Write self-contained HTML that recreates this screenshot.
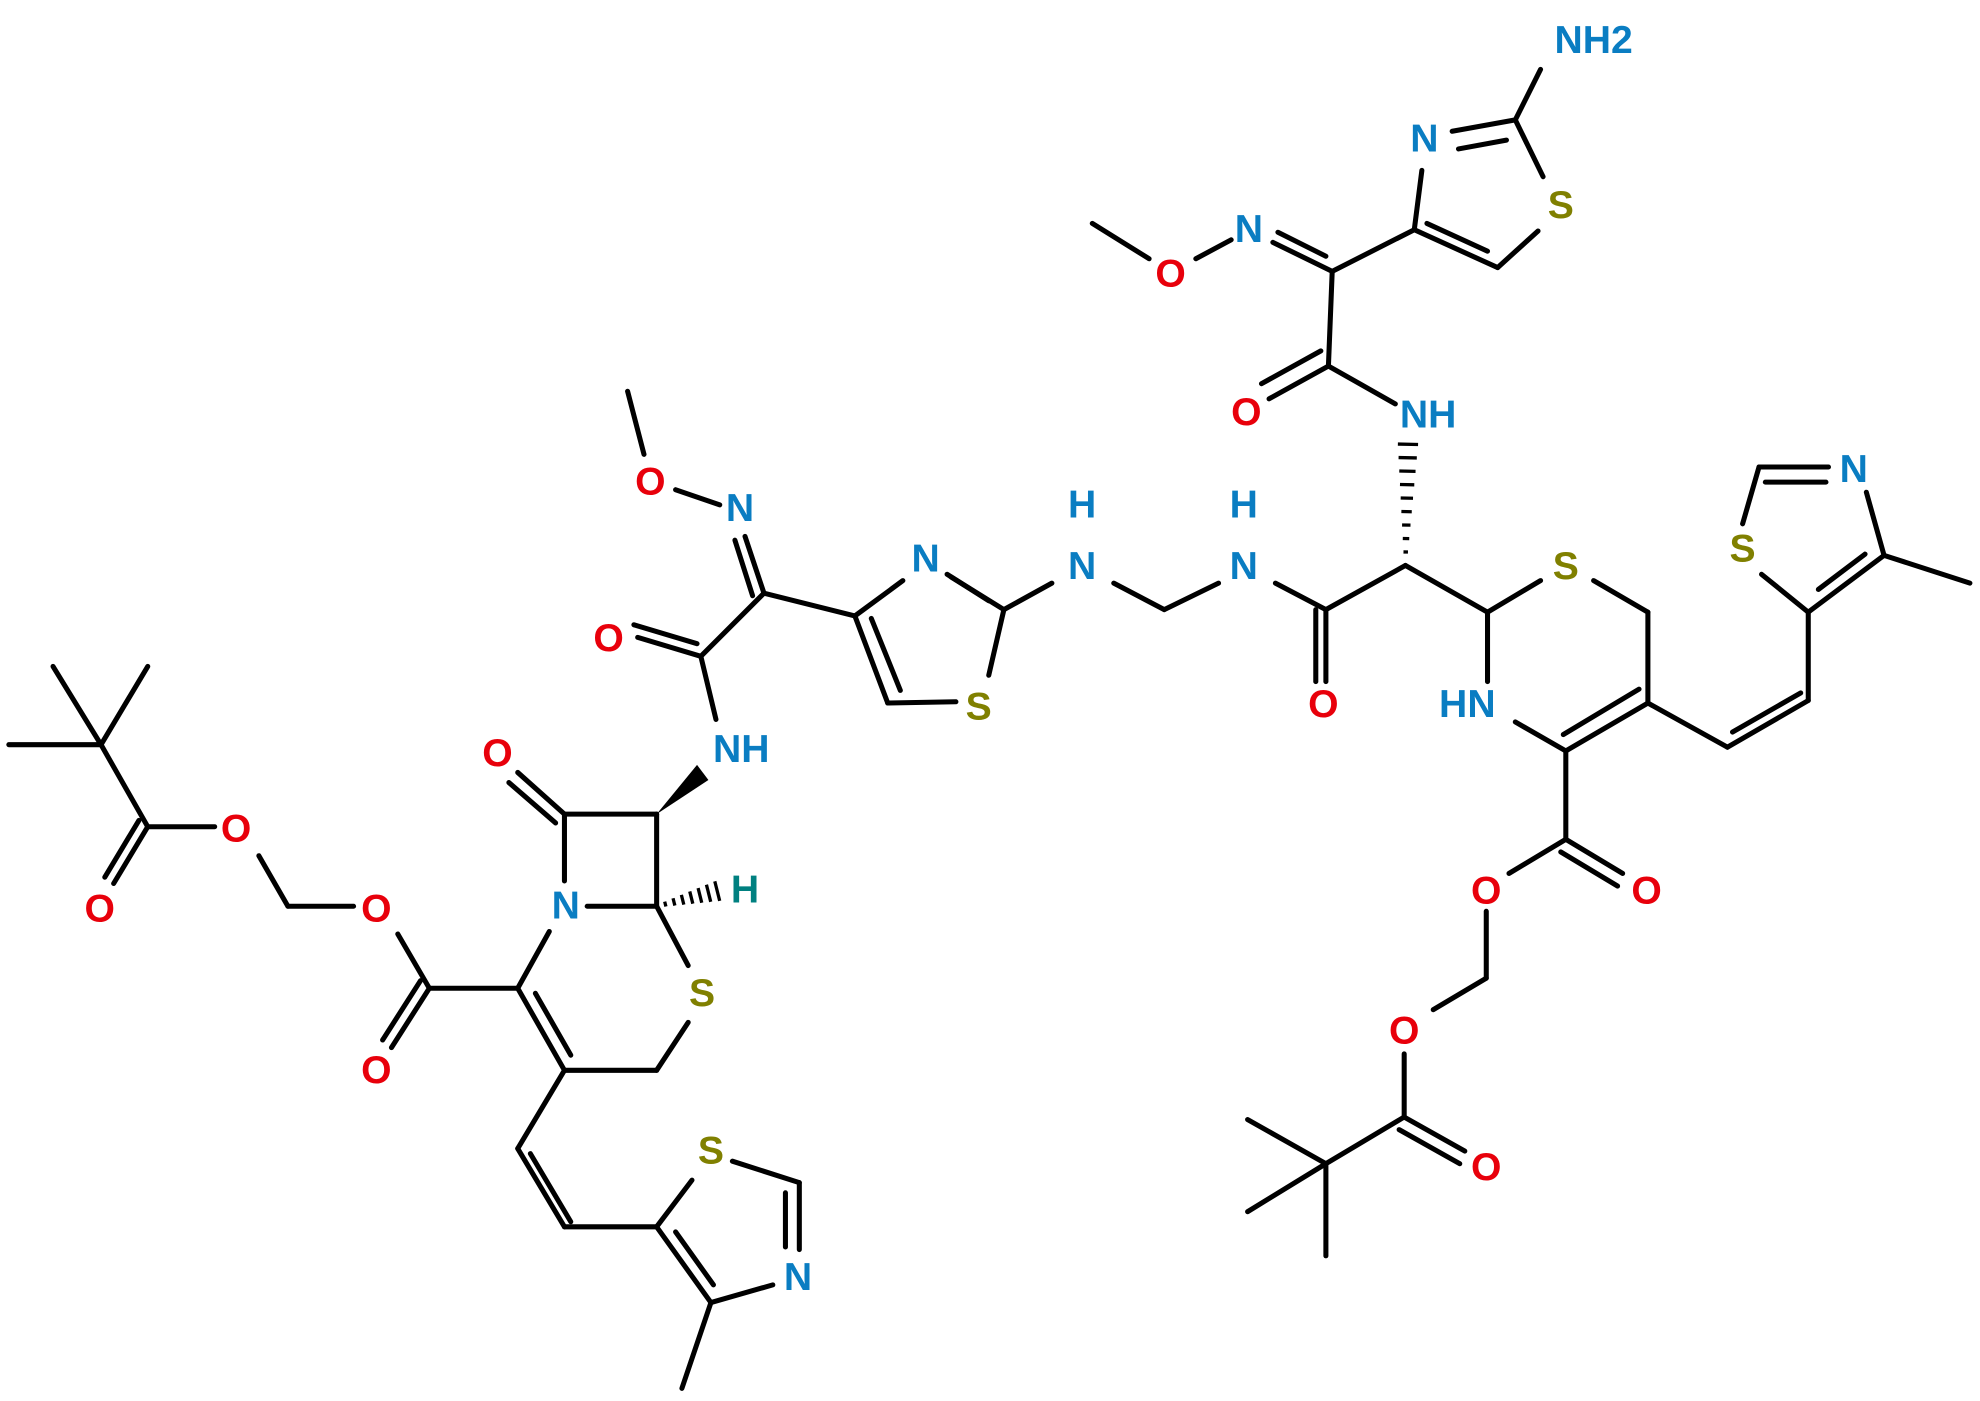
<!DOCTYPE html>
<html><head><meta charset="utf-8"><style>
html,body{margin:0;padding:0;background:#fff;}
svg{display:block}
text{font-family:"Liberation Sans",Arial,sans-serif;font-weight:bold;font-size:31px;text-anchor:middle;dominant-baseline:central}
.O{fill:#e8000b}.N{fill:#0a7dc2}.S{fill:#808000}.H{fill:#008080}
</style></head><body>
<svg id="s" width="1980" height="1401" viewBox="0 0 1568 1110" preserveAspectRatio="none" xmlns="http://www.w3.org/2000/svg">
<g id="b" stroke="#000" stroke-width="4" stroke-linecap="round" fill="none"></g>
<g id="w"></g>
<text x="1262" y="32" class="N">NH2</text>
<text x="1128" y="110" class="N">N</text>
<text x="1236" y="163" class="S">S</text>
<text x="989" y="182" class="N">N</text>
<text x="927" y="217" class="O">O</text>
<text x="987" y="327" class="O">O</text>
<text x="1131" y="329" class="N">NH</text>
<text x="857" y="400" class="N">H</text>
<text x="857" y="449" class="N">N</text>
<text x="985" y="400" class="N">H</text>
<text x="985" y="449" class="N">N</text>
<text x="515" y="382" class="O">O</text>
<text x="586" y="403" class="N">N</text>
<text x="733" y="443" class="N">N</text>
<text x="482" y="506" class="O">O</text>
<text x="775" y="560" class="S">S</text>
<text x="1048" y="558" class="O">O</text>
<text x="1240" y="449" class="S">S</text>
<text x="1162" y="558" class="N">HN</text>
<text x="1380" y="435" class="S">S</text>
<text x="1468" y="372" class="N">N</text>
<text x="587" y="594" class="N">NH</text>
<text x="394" y="597" class="O">O</text>
<text x="187" y="657" class="O">O</text>
<text x="79" y="720" class="O">O</text>
<text x="298" y="720" class="O">O</text>
<text x="448" y="718" class="N">N</text>
<text x="590" y="705" class="H">H</text>
<text x="556" y="787" class="S">S</text>
<text x="298" y="848" class="O">O</text>
<text x="1177" y="706" class="O">O</text>
<text x="1304" y="706" class="O">O</text>
<text x="1112" y="817" class="O">O</text>
<text x="1177" y="925" class="O">O</text>
<text x="563" y="912" class="S">S</text>
<text x="632" y="1012" class="N">N</text>
</svg>
<script>
var L=[
[1200,95,1220,55],[1150,104,1200,95],[1155,118,1193,111],[1200,95,1222,140],[1218,183,1186,212],[1186,212,1120,182],[1178,199,1130,177],[1120,182,1126,135],
[1120,182,1055,215],[1055,215,1008,192],[1050,203,1012,184],[975,190,947,205],[910,205,865,177],
[1055,215,1052,290],[1052,290,1005,316],[1046,278,999,304],[1052,290,1105,320],
[1113,448,1050,483],[1050,483,1050,540],[1042,483,1042,540],[1010,462,1050,483],
[922,483,882,462],[922,483,965,462],[833,462,795,483],
[795,483,753,457],[783,476,750,455],[795,483,783,535],[757,556,703,557],[703,557,677,488],[713,547,690,490],[677,488,715,460],
[677,488,605,470],[605,470,590,425],[596,472,582,428],[570,400,535,388],[510,360,497,310],
[605,470,555,520],[555,520,505,505],[552,510,502,495],[555,520,567,570],
[447,645,520,645],[447,645,410,612],[440,652,403,620],[447,645,447,698],[465,718,520,718],[520,718,520,645],
[520,718,545,765],[545,810,520,848],[520,848,447,848],[447,848,410,783],[424,787,452,836],[410,783,435,738],
[410,783,340,783],[340,783,310,830],[333,777,303,824],[340,783,315,740],[280,718,228,718],[228,718,205,678],[170,655,117,655],
[117,655,90,700],[110,650,83,695],[117,655,80,590],[80,590,7,590],[80,590,42,528],[80,590,117,528],
[447,848,410,910],[410,910,447,972],[420,914,452,968],[447,972,520,972],[520,972,548,935],[580,920,633,937],
[633,937,633,990],[622,945,622,988],[612,1018,563,1032],[563,1032,520,972],[565,1018,535,976],[563,1032,540,1100],
[1113,448,1178,485],[1178,485,1220,460],[1262,460,1305,485],[1305,485,1305,557],[1305,557,1240,595],[1298,546,1238,582],[1240,595,1200,572],[1178,540,1178,485],
[1240,595,1240,665],[1240,665,1285,692],[1236,675,1281,702],[1240,665,1195,692],[1177,722,1177,775],[1177,775,1135,800],[1112,835,1112,885],
[1112,885,1160,912],[1108,895,1156,922],[1112,885,1050,922],[1050,922,988,887],[1050,922,988,960],[1050,922,1050,995],
[1305,557,1368,592],[1368,592,1432,555],[1372,580,1426,549],[1432,555,1432,485],[1432,485,1395,455],[1380,415,1393,370],
[1393,370,1448,370],[1398,382,1446,382],[1478,390,1492,440],[1492,440,1432,485],[1477,439,1440,467],[1492,440,1560,462]];
var ns="http://www.w3.org/2000/svg",g=document.getElementById('b'),w=document.getElementById('w');
L.forEach(function(a){var l=document.createElementNS(ns,'line');l.setAttribute('x1',a[0]);l.setAttribute('y1',a[1]);l.setAttribute('x2',a[2]);l.setAttribute('y2',a[3]);g.appendChild(l);});
function hash(x1,y1,x2,y2,wd,n){var dx=x2-x1,dy=y2-y1,len=Math.hypot(dx,dy),px=-dy/len,py=dx/len;for(var i=0;i<=n;i++){var t=i/n,cx=x1+dx*t,cy=y1+dy*t,h=1+wd*t;var l=document.createElementNS(ns,'line');l.setAttribute('x1',cx+px*h);l.setAttribute('y1',cy+py*h);l.setAttribute('x2',cx-px*h);l.setAttribute('y2',cy-py*h);l.setAttribute('stroke','#000');l.setAttribute('stroke-width','2.6');w.appendChild(l);}}
hash(1113,448,1115,352,7,9);hash(520,718,568,706,7,7);
var p=document.createElementNS(ns,'polygon');p.setAttribute('points','520,645 552,606 561,618');p.setAttribute('fill','#000');w.appendChild(p);
</script>
</body></html>
